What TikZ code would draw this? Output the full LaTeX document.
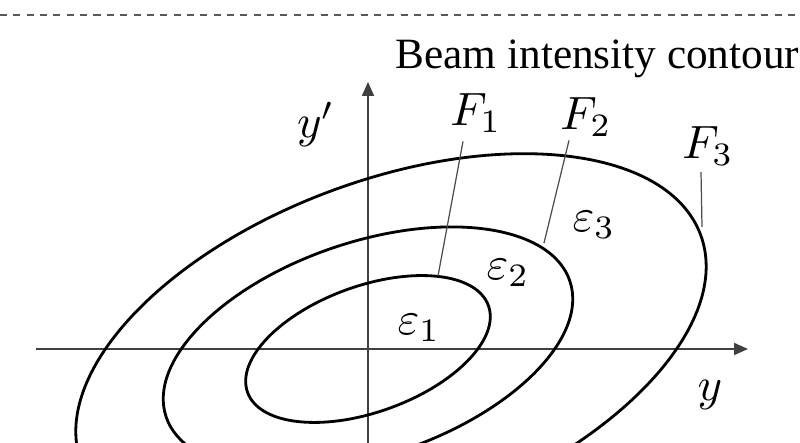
\documentclass[tikz,border=0pt]{standalone}
\usepackage{fontspec}
\newfontfamily\timesfont{Liberation Serif}
\usetikzlibrary{arrows.meta}

\begin{document}
\begin{tikzpicture}[
    contour/.style={black, line width=0.8pt},
    axis/.style={draw=black!75, line width=0.5pt, -{Triangle[length=1.4mm, width=1.2mm]}},
    leader/.style={draw=black!70, line width=0.35pt},
    lbl/.style={inner sep=0pt, scale=1.33}]
        \useasboundingbox (0,0) rectangle (8,4.43);
        \clip (0,0) rectangle (8,4.43);

        % Dashed separator at the top
        \draw[black!65, line width=0.6pt, dash pattern=on 2pt off 1.8pt] (0,4.28) -- (8,4.28);

        % Phase space axes
        \coordinate (O) at (3.68,0.94);
        \coordinate (Oout) at (3.91,0.94);
        \coordinate (yleft) at (0.36,0.94);
        \coordinate (yright) at (7.48,0.94);
        \coordinate (ypbot) at (3.68,0);
        \coordinate (yptop) at (3.68,3.61);
        \draw[axis] (yleft) -- (yright);
        \draw[axis] (ypbot) -- (yptop);
        \node[lbl] (yp) at (3.16,3.19) {$y'$};
        \node[lbl] (yax) at (7.10,0.48) {$y$};

        % Intensity contours
        \draw[contour, rotate around={19.8:(O)}] (O) ellipse (1.28 and 0.63);
        \draw[contour, rotate around={18.6:(O)}] (O) ellipse (2.13 and 1.07);
        \draw[contour, rotate around={20.2:(Oout)}] (Oout) ellipse (3.30 and 1.69);

        % Emittance labels
        \node[lbl] (eps1) at (4.19,1.15) {$\varepsilon_1$};
        \node[lbl] (eps2) at (5.08,1.70) {$\varepsilon_2$};
        \node[lbl] (eps3) at (5.94,2.18) {$\varepsilon_3$};

        % Contour labels with leader lines
        \node[lbl] (f1) at (4.76,3.30) {$F_1$};
        \node[lbl] (f2) at (5.86,3.26) {$F_2$};
        \node[lbl] (f3) at (7.08,2.965) {$F_3$};
        \coordinate (f1end) at (4.38,1.67);
        \coordinate (f2end) at (5.44,2.00);
        \coordinate (f3end) at (7.02,2.16);
        \draw[leader] ([shift={(-0.13,-0.08)}]f1.south) -- (f1end);
        \draw[leader] ([shift={(-0.17,-0.03)}]f2.south) -- (f2end);
        \draw[leader] ([shift={(-0.07,-0.05)}]f3.south) -- (f3end);

        \node[anchor=base west, inner sep=0pt, font=\timesfont\fontsize{12.3}{14}\selectfont] (title) at (3.95,3.74) {Beam intensity contour};
\end{tikzpicture}
\end{document}
